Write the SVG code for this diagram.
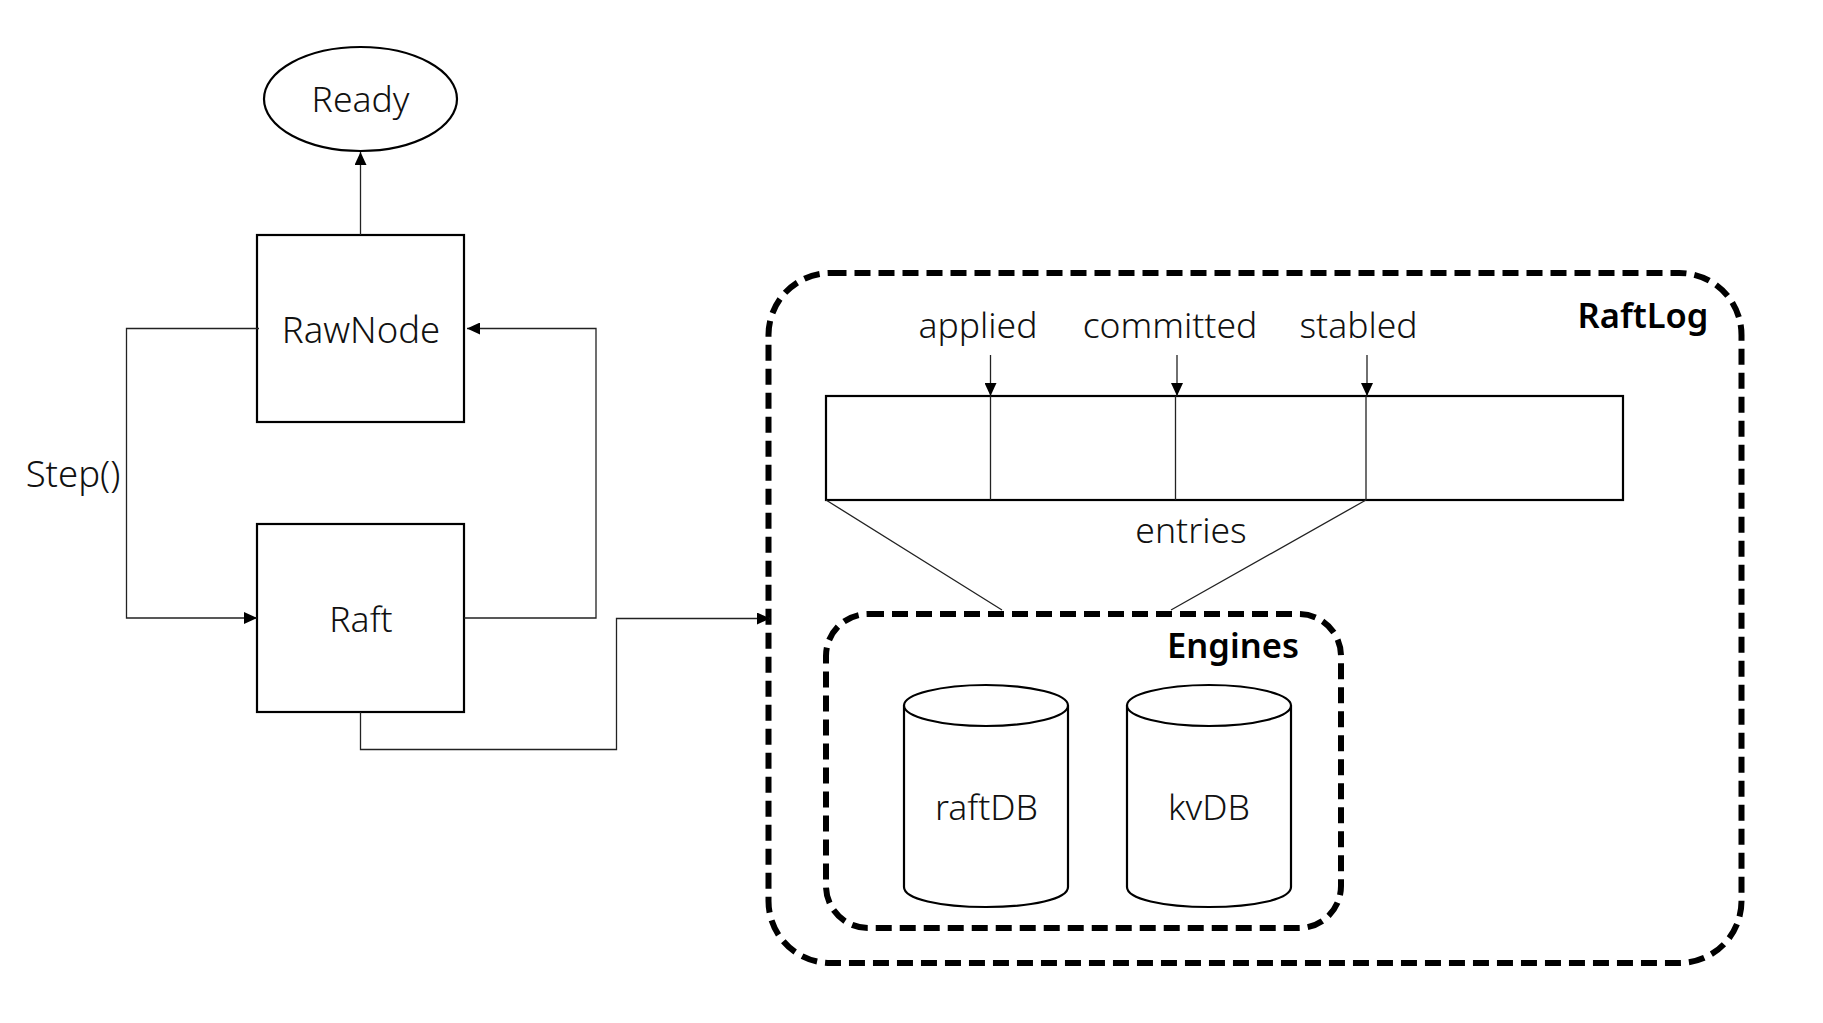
<svg xmlns="http://www.w3.org/2000/svg" width="1823" height="1023" viewBox="0 0 1823 1023">
<style>
text{font-family:"Noto Sans","Noto Sans CJK SC",sans-serif;font-size:35.500px;font-weight:300;fill:#111;text-anchor:middle}
.b{font-weight:600;font-size:34.500px;fill:#000}
.w{font-size:36.500px}
.n{fill:#fff;stroke:#000;stroke-width:2.2}
.c{fill:none;stroke:#222;stroke-width:1.300}
.d{fill:none;stroke:#000;stroke-width:6;stroke-dasharray:16 8}
</style>
<defs><marker id="a" markerUnits="userSpaceOnUse" markerWidth="14" markerHeight="12" refX="13" refY="6" orient="auto"><path d="M0 0L13 6L0 12Z" fill="#000"/></marker></defs>
<rect width="1823" height="1023" fill="#fff"/>
<g id="raftlog"><rect class="d" x="768.500" y="273" width="973" height="690" rx="62"/><text class="b" x="1643" y="328">RaftLog</text></g>
<g id="ready"><ellipse class="n" cx="360.500" cy="99" rx="96.500" ry="52"/><text x="360.500" y="112">Ready</text></g>
<g id="rawnode"><rect class="n" x="257" y="235" width="207" height="187"/><text class="w" x="361" y="343">RawNode</text></g>
<g id="raft"><rect class="n" x="257" y="524" width="207" height="188"/><text x="361" y="632">Raft</text></g>
<g id="step-label"><text class="w" x="73" y="487">Step()</text></g>
<g id="entries"><rect class="n" x="826" y="396" width="797" height="104"/><path class="c" d="M990.500 396V500M1175.500 396V500M1366 396V500"/><text x="1191" y="543">entries</text></g>
<g id="labels"><text x="978" y="338">applied</text><text x="1170" y="338">committed</text><text x="1358.500" y="338">stabled</text></g>
<g id="engines"><rect class="d" x="826" y="614" width="515" height="314" rx="42"/><text class="b" x="1233" y="658">Engines</text></g>
<g id="raftdb"><path class="n" d="M904 705.500V887C904 899 940 907 986 907S1068 899 1068 887V705.500"/><ellipse class="n" cx="986" cy="705.500" rx="82" ry="20.500"/><text x="986.500" y="820">raftDB</text></g>
<g id="kvdb"><path class="n" d="M1127 705.500V887C1127 899 1163 907 1209 907S1291 899 1291 887V705.500"/><ellipse class="n" cx="1209" cy="705.500" rx="82" ry="20.500"/><text x="1209" y="820">kvDB</text></g>
<g id="connectors">
<path class="c" d="M360.500 235V152" marker-end="url(#a)"/>
<path class="c" d="M259 328.500H126.500V618H257" marker-end="url(#a)"/>
<path class="c" d="M464 618H596V328.500H467" marker-end="url(#a)"/>
<path class="c" d="M360.500 712V749.500H616.500V618.500H770" marker-end="url(#a)"/>
<path class="c" d="M990.500 355V396" marker-end="url(#a)"/>
<path class="c" d="M1177 355V396" marker-end="url(#a)"/>
<path class="c" d="M1367 355V396" marker-end="url(#a)"/>
<path class="c" d="M826 500L1002 610M1366 500L1171 610"/>
</g>
</svg>
